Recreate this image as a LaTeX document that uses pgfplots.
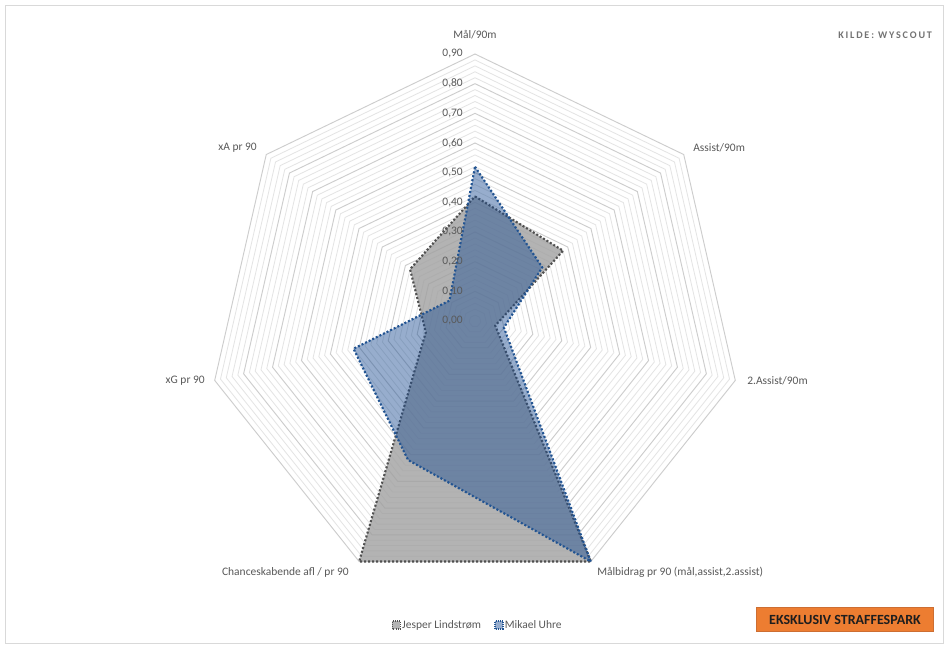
\documentclass[border=0pt]{standalone}
\usepackage{fontspec}
\setmainfont{Carlito}
\newfontfamily\spacedfont[LetterSpace=18]{Carlito}
\usepackage{pgfplots}
\pgfplotsset{compat=1.18}
\usepgfplotslibrary{polar}
\definecolor{txt}{RGB}{89,89,89}
\definecolor{majgrid}{RGB}{205,205,205}
\definecolor{mingrid}{RGB}{228,228,228}
\definecolor{grayfill}{RGB}{160,160,160}
\definecolor{grayline}{RGB}{80,80,80}
\definecolor{bluefill}{RGB}{25,75,145}
\definecolor{blueline}{RGB}{34,84,146}
\definecolor{boxorange}{RGB}{237,125,49}
\definecolor{framecol}{RGB}{217,217,217}
\newcommand{\hept}[2]{\draw[#1] (axis cs:90,#2) -- (axis cs:38.5714,#2) -- (axis cs:-12.8571,#2) -- (axis cs:-64.2857,#2) -- (axis cs:-115.7143,#2) -- (axis cs:-167.1429,#2) -- (axis cs:141.4286,#2) -- cycle;}
\newcommand{\lbl}{\fontsize{8.6}{10}\selectfont}
\begin{document}
\begin{tikzpicture}
\begin{scope}[x=0.75pt,y=-0.75pt]
\fill[white] (0,0) rectangle (950,650);
\draw[framecol, line width=0.75pt] (5,5) rectangle (943,643);
\end{scope}
\begin{polaraxis}[
  at={(356.25pt,-240.75pt)}, anchor=center,
  scale only axis, width=400.5pt, height=400.5pt,
  ymin=0, ymax=0.9, hide axis, clip=false,
  legend style={at={(0.5045,-0.0693)}, anchor=center, draw=none, fill=none,
    legend columns=2, font=\lbl, text=txt,
    /tikz/every even column/.append style={column sep=9pt},
    inner sep=0pt, nodes={inner sep=1pt}},
  legend image code/.code={\draw[#1, line width=0.8pt, dash pattern=on 0.8pt off 0.8pt] (0pt,-3pt) rectangle (6pt,3pt);},
]
% minor grid
\hept{mingrid, line width=0.6pt}{0.02}
\hept{mingrid, line width=0.6pt}{0.04}
\hept{mingrid, line width=0.6pt}{0.06}
\hept{mingrid, line width=0.6pt}{0.08}
\hept{mingrid, line width=0.6pt}{0.12}
\hept{mingrid, line width=0.6pt}{0.14}
\hept{mingrid, line width=0.6pt}{0.16}
\hept{mingrid, line width=0.6pt}{0.18}
\hept{mingrid, line width=0.6pt}{0.22}
\hept{mingrid, line width=0.6pt}{0.24}
\hept{mingrid, line width=0.6pt}{0.26}
\hept{mingrid, line width=0.6pt}{0.28}
\hept{mingrid, line width=0.6pt}{0.32}
\hept{mingrid, line width=0.6pt}{0.34}
\hept{mingrid, line width=0.6pt}{0.36}
\hept{mingrid, line width=0.6pt}{0.38}
\hept{mingrid, line width=0.6pt}{0.42}
\hept{mingrid, line width=0.6pt}{0.44}
\hept{mingrid, line width=0.6pt}{0.46}
\hept{mingrid, line width=0.6pt}{0.48}
\hept{mingrid, line width=0.6pt}{0.52}
\hept{mingrid, line width=0.6pt}{0.54}
\hept{mingrid, line width=0.6pt}{0.56}
\hept{mingrid, line width=0.6pt}{0.58}
\hept{mingrid, line width=0.6pt}{0.62}
\hept{mingrid, line width=0.6pt}{0.64}
\hept{mingrid, line width=0.6pt}{0.66}
\hept{mingrid, line width=0.6pt}{0.68}
\hept{mingrid, line width=0.6pt}{0.72}
\hept{mingrid, line width=0.6pt}{0.74}
\hept{mingrid, line width=0.6pt}{0.76}
\hept{mingrid, line width=0.6pt}{0.78}
\hept{mingrid, line width=0.6pt}{0.82}
\hept{mingrid, line width=0.6pt}{0.84}
\hept{mingrid, line width=0.6pt}{0.86}
\hept{mingrid, line width=0.6pt}{0.88}
% major grid
\hept{majgrid, line width=0.7pt}{0.1}
\hept{majgrid, line width=0.7pt}{0.2}
\hept{majgrid, line width=0.7pt}{0.3}
\hept{majgrid, line width=0.7pt}{0.4}
\hept{majgrid, line width=0.7pt}{0.5}
\hept{majgrid, line width=0.7pt}{0.6}
\hept{majgrid, line width=0.7pt}{0.7}
\hept{majgrid, line width=0.7pt}{0.8}
\hept{majgrid, line width=0.7pt}{0.9}
% Jesper Lindstrom (angle, value)
\addplot[draw=grayline, fill=grayfill, fill opacity=0.8, line width=1.6pt, dash pattern=on 1.5pt off 1.5pt]
  coordinates {(90,0.42) (38.5714,0.38) (-12.8571,0.07) (-64.2857,0.90) (-115.7143,0.90) (-167.1429,0.17) (141.4286,0.28) (90,0.42)};
\addlegendentry{Jesper Lindstrøm}
% Mikael Uhre
\addplot[draw=blueline, fill=bluefill, fill opacity=0.45, line width=1.6pt, dash pattern=on 1.5pt off 1.5pt]
  coordinates {(90,0.52) (38.5714,0.29) (-12.8571,0.10) (-64.2857,0.90) (-115.7143,0.52) (-167.1429,0.42) (141.4286,0.11) (90,0.52)};
\addlegendentry{Mikael Uhre}
% value labels
\node[anchor=east, xshift=-9pt, font=\lbl, text=txt, inner sep=0pt] at (axis cs:90,0.0) {0,00};
\node[anchor=east, xshift=-9pt, font=\lbl, text=txt, inner sep=0pt] at (axis cs:90,0.1) {0,10};
\node[anchor=east, xshift=-9pt, font=\lbl, text=txt, inner sep=0pt] at (axis cs:90,0.2) {0,20};
\node[anchor=east, xshift=-9pt, font=\lbl, text=txt, inner sep=0pt] at (axis cs:90,0.3) {0,30};
\node[anchor=east, xshift=-9pt, font=\lbl, text=txt, inner sep=0pt] at (axis cs:90,0.4) {0,40};
\node[anchor=east, xshift=-9pt, font=\lbl, text=txt, inner sep=0pt] at (axis cs:90,0.5) {0,50};
\node[anchor=east, xshift=-9pt, font=\lbl, text=txt, inner sep=0pt] at (axis cs:90,0.6) {0,60};
\node[anchor=east, xshift=-9pt, font=\lbl, text=txt, inner sep=0pt] at (axis cs:90,0.7) {0,70};
\node[anchor=east, xshift=-9pt, font=\lbl, text=txt, inner sep=0pt] at (axis cs:90,0.8) {0,80};
\node[anchor=east, xshift=-9pt, font=\lbl, text=txt, inner sep=0pt] at (axis cs:90,0.9) {0,90};
\end{polaraxis}
\begin{scope}[x=0.75pt,y=-0.75pt, every node/.style={font=\lbl, text=txt, inner sep=0pt}]
\node[anchor=center] at (475,35) {Mål/90m};
\node[anchor=west] at (693,148) {Assist/90m};
\node[anchor=west] at (747,381) {2.Assist/90m};
\node[anchor=west] at (597,572) {Målbidrag pr 90 (mål,assist,2.assist)};
\node[anchor=east] at (349,572) {Chanceskabende afl / pr 90};
\node[anchor=east] at (205,381) {xG pr 90};
\node[anchor=east] at (257,148) {xA pr 90};
\node[anchor=west, font=\spacedfont\bfseries\fontsize{7.6}{9}\selectfont, text={rgb,255:red,115;green,115;blue,115}] at (838,35) {KILDE: WYSCOUT};
\node[fill=boxorange, draw={rgb,255:red,205;green,110;blue,50}, line width=0.5pt, minimum width=132.5pt, minimum height=18pt, font=\bfseries\fontsize{10.5}{12}\selectfont, text={rgb,255:red,30;green,30;blue,30}] at (845,619.7) {EKSKLUSIV STRAFFESPARK};
\end{scope}
\end{tikzpicture}
\end{document}
